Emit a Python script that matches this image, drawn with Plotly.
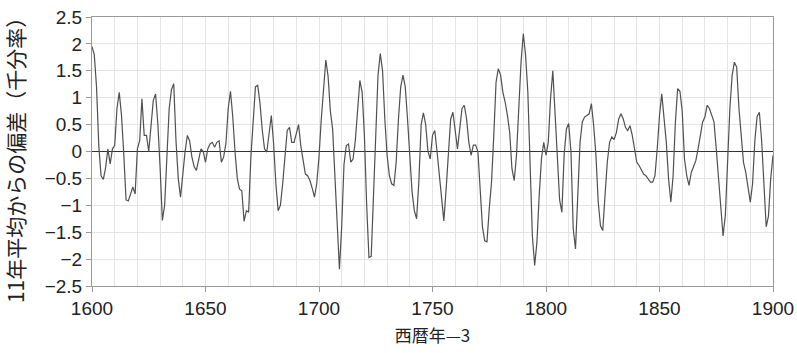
import plotly.graph_objects as go

years = list(range(1600, 1901))
values = [
    1.95, 1.8, 1.2, 0.1, -0.45, -0.52, -0.3, 0.05, -0.23, 0.05,      # 1600-1609
    0.11, 0.8, 1.1, 0.67, -0.05, -0.9, -0.92, -0.8, -0.66, -0.79,     # 1610-1619
    0.05, 0.2, 0.98, 0.3, 0.3, 0.0, 0.55, 0.95, 1.07, 0.52,           # 1620-1629
    -0.3, -1.28, -1.0, -0.2, 0.8, 1.15, 1.26, 0.2, -0.5, -0.85,       # 1630-1639
    -0.4, 0.0, 0.3, 0.2, -0.1, -0.28, -0.35, -0.12, 0.05, 0.0,        # 1640-1649
    -0.2, 0.05, 0.14, 0.17, 0.08, 0.17, 0.2, -0.2, -0.1, 0.15,        # 1650-1659
    0.8, 1.12, 0.65, 0.0, -0.5, -0.7, -0.73, -1.3, -1.1, -1.13,       # 1660-1669
    -0.1, 0.55, 1.2, 1.23, 0.9, 0.4, 0.05, -0.01, 0.3, 0.67,          # 1670-1679
    0.15, -0.6, -1.1, -1.0, -0.6, -0.07, 0.39, 0.45, 0.17, 0.17,      # 1680-1689
    0.35, 0.5, 0.1, -0.2, -0.42, -0.45, -0.54, -0.68, -0.85, -0.6,    # 1690-1699
    -0.1, 0.6, 1.2, 1.7, 1.4, 0.75, 0.42, -0.45, -1.07, -2.19,        # 1700-1709
    -1.4, -0.25, 0.11, 0.14, -0.2, -0.14, 0.2, 0.86, 1.32, 1.1,       # 1710-1719
    0.3, -1.0, -1.97, -1.95, -0.85, 0.3, 1.42, 1.82, 1.5, 0.6,        # 1720-1729
    -0.07, -0.45, -0.6, -0.63, -0.2, 0.6, 1.2, 1.42, 1.2, 0.6,        # 1730-1739
    0.0, -0.75, -1.1, -1.25, -0.55, 0.5, 0.72, 0.5, 0.0, -0.14,       # 1740-1749
    0.3, 0.39, 0.0, -0.4, -0.85, -1.29, -0.7, 0.05, 0.6, 0.73,        # 1750-1759
    0.36, 0.05, 0.42, 0.8, 0.86, 0.61, 0.17, -0.07, 0.12, 0.12,       # 1760-1769
    0.0, -0.7, -1.4, -1.66, -1.68, -1.07, -0.57, 0.3, 1.29, 1.54,     # 1770-1779
    1.42, 1.1, 0.92, 0.67, 0.36, -0.32, -0.54, -0.07, 0.8, 1.66,      # 1780-1789
    2.19, 1.79, 1.1, -0.26, -1.57, -2.12, -1.69, -0.82, -0.14, 0.17,  # 1790-1799
    -0.07, 0.17, 0.98, 1.5, 0.7, -0.3, -0.9, -1.13, -0.05, 0.42,      # 1800-1809
    0.52, -0.01, -1.44, -1.81, -0.88, 0.17, 0.55, 0.64, 0.67, 0.7,    # 1810-1819
    0.89, 0.48, -0.07, -0.94, -1.38, -1.47, -0.82, -0.2, 0.17, 0.27,  # 1820-1829
    0.22, 0.35, 0.6, 0.7, 0.61, 0.45, 0.39, 0.48, 0.3, 0.0,           # 1830-1839
    -0.2, -0.26, -0.35, -0.42, -0.45, -0.51, -0.57, -0.57, -0.45, 0.05,  # 1840-1849
    0.67, 1.07, 0.61, 0.17, -0.51, -0.94, -0.45, 0.55, 1.17, 1.12,    # 1850-1859
    0.75, -0.14, -0.45, -0.63, -0.39, -0.26, -0.17, 0.05, 0.3, 0.55,  # 1860-1869
    0.64, 0.86, 0.8, 0.65, 0.55, 0.05, -0.51, -1.07, -1.57, -1.19,    # 1870-1879
    -0.07, 0.8, 1.42, 1.66, 1.57, 0.8, 0.3, -0.2, -0.39, -0.7,        # 1880-1889
    -0.94, -0.6, 0.2, 0.65, 0.73, 0.2, -0.6, -1.4, -1.2, -0.5,        # 1890-1899
    -0.07,                                                            # 1900
]

x_title = "西暦年—3"
y_title = "11年平均からの偏差（千分率）"

fig = go.Figure()
fig.add_trace(go.Scatter(
    x=years, y=values, mode="lines",
    line=dict(color="#505050", width=1.2),
    showlegend=False, hoverinfo="x+y",
))

font_family = "Liberation Sans, Arial, Noto Sans CJK JP, sans-serif"
cjk_family = "Noto Sans CJK JP, sans-serif"

fig.update_layout(
    width=797, height=353,
    margin=dict(l=92, r=24, t=17, b=67),
    paper_bgcolor="white", plot_bgcolor="white",
    font=dict(family=font_family, size=19, color="#222222"),
    xaxis=dict(
        range=[1600, 1900], dtick=50, tick0=1600,
        showgrid=True, gridcolor="#e4e4e4", gridwidth=1,
        minor=dict(dtick=10, showgrid=True, gridcolor="#e4e4e4", gridwidth=1),
        showline=True, linecolor="#999999", linewidth=1, mirror=True,
        ticks="outside", ticklen=5, tickcolor="#999999",
        zeroline=False, automargin=False, ticklabeloverflow="allow",
        title=dict(text=x_title, font=dict(family=cjk_family, size=17), standoff=12),
        tickfont=dict(size=19),
    ),
    yaxis=dict(
        range=[-2.5, 2.5], dtick=0.5, tick0=0,
        showgrid=True, gridcolor="#e4e4e4", gridwidth=1,
        showline=True, linecolor="#999999", linewidth=1, mirror=True,
        ticks="outside", ticklen=5, tickcolor="#999999",
        zeroline=True, zerolinecolor="#333333", zerolinewidth=1.2,
        automargin=False, ticklabeloverflow="allow",
        tickfont=dict(size=19),
    ),
    annotations=[dict(
        text=y_title, textangle=-90, showarrow=False,
        xref="paper", yref="paper", x=-0.113, y=0.487,
        xanchor="center", yanchor="middle",
        font=dict(family=cjk_family, size=21, color="#222222"),
    )],
)

# remove the page's default body margin so the figure fills the window exactly
fig.write_html(
    "out.html",
    config={"displayModeBar": False},
    post_script="document.body.style.margin='0';",
)
